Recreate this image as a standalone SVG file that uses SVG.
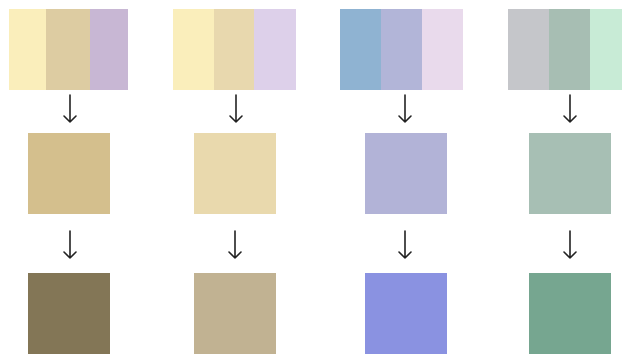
<svg xmlns="http://www.w3.org/2000/svg" width="622" height="354" viewBox="0 0 622 354">
<defs>
<style>
.arrow{fill:none;stroke:#222;stroke-width:1.6;stroke-linecap:round;stroke-linejoin:round}
</style>
</defs>
<rect width="622" height="354" fill="#fff"/>
<g id="group1">
<g id="top1"><rect x="9" y="9" width="37" height="81" fill="#FAEEBB"/><rect x="46" y="9" width="44" height="81" fill="#DDCCA2"/><rect x="90" y="9" width="38" height="81" fill="#C8B7D4"/></g>
<g id="mid1"><rect x="28" y="133" width="82" height="81" fill="#D4BF8D"/></g>
<g id="bot1"><rect x="28" y="273" width="82" height="81" fill="#837656"/></g>
</g>
<g id="group2">
<g id="top2"><rect x="173" y="9" width="41" height="81" fill="#FAEEBB"/><rect x="214" y="9" width="40" height="81" fill="#E8D8AE"/><rect x="254" y="9" width="42" height="81" fill="#DDD0EA"/></g>
<g id="mid2"><rect x="194" y="133" width="82" height="81" fill="#E9D9AD"/></g>
<g id="bot2"><rect x="194" y="273" width="82" height="81" fill="#C1B292"/></g>
</g>
<g id="group3">
<g id="top3"><rect x="340" y="9" width="41" height="81" fill="#8FB3D2"/><rect x="381" y="9" width="41" height="81" fill="#B2B5D8"/><rect x="422" y="9" width="41" height="81" fill="#E9DAEC"/></g>
<g id="mid3"><rect x="365" y="133" width="82" height="81" fill="#B2B3D7"/></g>
<g id="bot3"><rect x="365" y="273" width="82" height="81" fill="#8A92E1"/></g>
</g>
<g id="group4">
<g id="top4"><rect x="508" y="9" width="41" height="81" fill="#C5C6CA"/><rect x="549" y="9" width="41" height="81" fill="#A7BEB3"/><rect x="590" y="9" width="41" height="81" fill="#C8EBD6"/></g>
<g id="mid4"><rect x="529" y="133" width="82" height="81" fill="#A7BFB4"/></g>
<g id="bot4"><rect x="529" y="273" width="82" height="81" fill="#76A690"/></g>
</g>
<g id="connectors" class="arrow">
<path d="M70 95V122M64 116L70 122L76 116"/>
<path d="M236 95V122M230 116L236 122L242 116"/>
<path d="M405 95V122M399 116L405 122L411 116"/>
<path d="M570 95V122M564 116L570 122L576 116"/>
<path d="M70 231V258M64 252L70 258L76 252"/>
<path d="M235 231V258M229 252L235 258L241 252"/>
<path d="M405 231V258M399 252L405 258L411 252"/>
<path d="M570 231V258M564 252L570 258L576 252"/>
</g>
</svg>
